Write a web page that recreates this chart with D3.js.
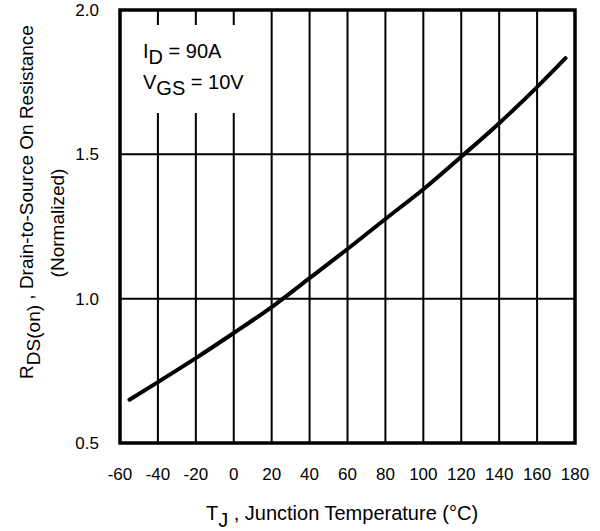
<!DOCTYPE html>
<html>
<head>
<meta charset="utf-8">
<script src="https://cdn.jsdelivr.net/npm/d3@7"></script>
<style>
  body { margin: 0; background: #fff; }
  text { font-family: "Liberation Sans", Arial, sans-serif; fill: #000; }
</style>
</head>
<body>
<div id="chart"></div>
<script>
// Normalized on-resistance vs junction temperature
const temps = [-55, -40, -20, 0, 20, 40, 60, 80, 100, 120, 140, 160, 175];
const rdsNorm = [0.65, 0.711, 0.794, 0.881, 0.971, 1.071, 1.172, 1.276, 1.379, 1.492, 1.608, 1.733, 1.833];
const xTicks = [-60, -40, -20, 0, 20, 40, 60, 80, 100, 120, 140, 160, 180];
const yTicks = [0.5, 1.0, 1.5, 2.0];

const width = 600, height = 531;
const margin = {top: 10, left: 120, bottom: 88, right: 25};

const svg = d3.select('#chart')
    .append('svg')
    .attr('width', width)
    .attr('height', height);

const x = d3.scaleLinear()
    .domain([-60, 180])
    .range([margin.left, width - margin.right]);

const y = d3.scaleLinear()
    .domain([0.5, 2.0])
    .range([height - margin.bottom, margin.top]);

// grid lines
svg.append('g')
    .selectAll('line')
    .data(xTicks.slice(1, -1))
    .join('line')
    .attr('x1', d => x(d)).attr('x2', d => x(d))
    .attr('y1', y(0.5)).attr('y2', y(2.0))
    .attr('stroke', '#000')
    .attr('stroke-width', 2);

svg.append('g')
    .selectAll('line')
    .data(yTicks.slice(1, -1))
    .join('line')
    .attr('x1', x(-60)).attr('x2', x(180))
    .attr('y1', d => y(d)).attr('y2', d => y(d))
    .attr('stroke', '#000')
    .attr('stroke-width', 2);

// white patch behind the conditions note
svg.append('rect')
    .attr('x', x(-60) + 3)
    .attr('y', 25)
    .attr('width', 140)
    .attr('height', 88)
    .attr('fill', '#fff');

// frame
svg.append('rect')
    .attr('x', x(-60))
    .attr('y', y(2.0))
    .attr('width', x(180) - x(-60))
    .attr('height', y(0.5) - y(2.0))
    .attr('fill', 'none')
    .attr('stroke', '#000')
    .attr('stroke-width', 3.5);

// tick labels
svg.append('g')
    .selectAll('text')
    .data(xTicks)
    .join('text')
    .attr('x', d => x(d))
    .attr('y', 480)
    .attr('text-anchor', 'middle')
    .attr('font-size', 17)
    .text(d => d);

svg.append('g')
    .selectAll('text')
    .data(yTicks)
    .join('text')
    .attr('x', 99)
    .attr('y', d => y(d))
    .attr('dy', '0.35em')
    .attr('text-anchor', 'end')
    .attr('font-size', 17)
    .text(d => d.toFixed(1));

// the curve
const line = d3.line()
    .x((d, i) => x(temps[i]))
    .y(d => y(d))
    .curve(d3.curveMonotoneX);

svg.append('path')
    .datum(rdsNorm)
    .attr('d', line)
    .attr('fill', 'none')
    .attr('stroke', '#000')
    .attr('stroke-width', 4)
    .attr('stroke-linecap', 'round');

// conditions note
const note = svg.append('g').attr('font-size', 20);
let t1 = note.append('text').attr('x', 143).attr('y', 58);
t1.append('tspan').text('I');
t1.append('tspan').attr('dy', 6).text('D');
t1.append('tspan').attr('dy', -6).text(' = 90A');

let t2 = note.append('text').attr('x', 143).attr('y', 89);
t2.append('tspan').text('V');
t2.append('tspan').attr('dy', 6).text('GS');
t2.append('tspan').attr('dy', -6).text(' = 10V');

// x axis title
let xt = svg.append('text')
    .attr('x', 342)
    .attr('y', 520)
    .attr('text-anchor', 'middle')
    .attr('font-size', 20);
xt.append('tspan').text('T');
xt.append('tspan').attr('dy', 7).text('J');
xt.append('tspan').attr('dy', -7).text(' , Junction Temperature (°C)');

// y axis title (two lines)
let yt = svg.append('text')
    .attr('transform', 'translate(33,202) rotate(-90)')
    .attr('text-anchor', 'middle')
    .attr('font-size', 19);
yt.append('tspan').text('R');
yt.append('tspan').attr('dy', 7).text('DS(on)');
yt.append('tspan').attr('dy', -7).text(' , Drain-to-Source On Resistance');

svg.append('text')
    .attr('transform', 'translate(64,223) rotate(-90)')
    .attr('text-anchor', 'middle')
    .attr('font-size', 19)
    .text('(Normalized)');
</script>
</body>
</html>
